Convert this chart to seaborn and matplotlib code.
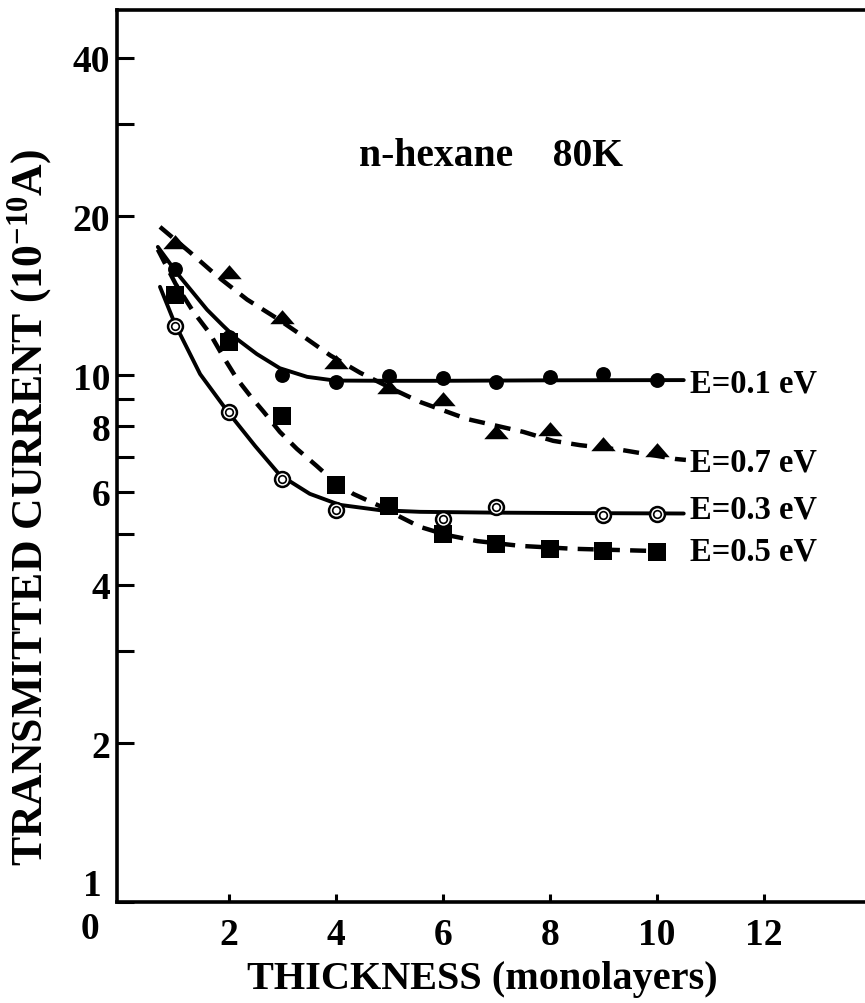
import numpy as np
import pandas as pd
import matplotlib
matplotlib.use("Agg")
import matplotlib.pyplot as plt
import seaborn as sns
from matplotlib.ticker import FixedLocator, FixedFormatter, NullLocator

# ---------------- data ----------------
thickness = [1, 2, 3, 4, 5, 6, 7, 8, 9, 10]
cur_e01 = [15.9, 11.8, 10.0, 9.7, 9.95, 9.85, 9.7, 9.9, 10.05, 9.8]
cur_e07 = [17.9, 15.7, 12.9, 10.6, 9.5, 9.0, 7.8, 7.9, 7.4, 7.2]
cur_e05 = [14.2, 11.55, 8.36, 6.18, 5.64, 4.99, 4.78, 4.67, 4.64, 4.62]
thick_e03 = [1, 2, 3, 4, 6, 7, 9, 10]
cur_e03 = [12.4, 8.5, 6.35, 5.55, 5.33, 5.62, 5.42, 5.44]

# fitted curves, points
fit01_x = [0.67, 1.03, 1.59, 1.89, 2.15, 2.52, 2.95, 3.46, 3.98, 5.0, 6.0, 8.0, 10.5]
fit01_y = [17.5, 15.6, 13.3, 12.4, 11.7, 10.96, 10.3, 9.92, 9.76, 9.75, 9.75, 9.77, 9.78]
fit07_x = [0.71, 1.27, 1.78, 2.34, 2.90, 3.46, 3.89, 4.45, 5.14, 5.57, 6.45, 7.50, 8.06, 8.56, 9.33, 10.34, 10.54]
fit07_y = [19.1, 17.1, 15.4, 13.9, 12.8, 11.7, 10.9, 10.1, 9.32, 8.89, 8.25, 7.80, 7.50, 7.36, 7.21, 6.93, 6.90]
fit03_x = [0.71, 0.99, 1.46, 1.98, 2.49, 2.95, 3.51, 4.07, 4.82, 5.57, 7.0, 8.5, 10.5]
fit03_y = [14.7, 12.5, 10.04, 8.51, 7.33, 6.46, 5.95, 5.67, 5.54, 5.50, 5.48, 5.47, 5.46]
fit05_x = [0.67, 1.0, 1.33, 1.64, 1.90, 2.15, 2.40, 2.65, 2.95, 3.27, 3.64, 3.85, 4.32, 4.82, 5.2, 5.57, 6.07, 6.64, 7.44, 8.43, 10.1]
fit05_y = [17.3, 14.9, 13.2, 12.0, 10.8, 9.83, 9.12, 8.51, 7.80, 7.24, 6.72, 6.43, 5.95, 5.64, 5.38, 5.15, 4.97, 4.84, 4.74, 4.68, 4.63]

series_labels = ["E=0.1 eV", "E=0.7 eV", "E=0.3 eV", "E=0.5 eV"]
label_y = [9.65, 6.85, 5.58, 4.63]

y_ticks = [1, 2, 3, 4, 5, 6, 7, 8, 9, 10, 20, 30, 40]
y_ticklabels = ["", "2", "", "4", "", "6", "", "8", "", "10", "20", "", "40"]
x_ticks = [2, 4, 6, 8, 10, 12]
x_ticklabels = ["2", "4", "6", "8", "10", "12"]

title_text = "n-hexane    80K"
xlabel = "THICKNESS (monolayers)"
ylabel = "TRANSMITTED CURRENT (10$^{-10}$A)"

# ---------------- style ----------------
sns.set_theme(style="ticks")
plt.rcParams["font.family"] = ["Liberation Serif", "DejaVu Serif"]
plt.rcParams["font.weight"] = "bold"
plt.rcParams["text.color"] = "black"
plt.rcParams["axes.labelcolor"] = "black"
plt.rcParams["xtick.color"] = "black"
plt.rcParams["ytick.color"] = "black"
plt.rcParams["mathtext.fontset"] = "custom"
plt.rcParams["mathtext.rm"] = "Liberation Serif:bold"
plt.rcParams["mathtext.bf"] = "Liberation Serif:bold"
plt.rcParams["mathtext.it"] = "Liberation Serif:bold:italic"

W, H = 865, 1004
fig = plt.figure(figsize=(W / 100, H / 100), dpi=100)
ax = fig.add_axes([117 / W, (H - 903) / H, (W - 117) / W, (903 - 11) / H])
ax.set_facecolor("white")
fig.patch.set_facecolor("white")

ax.set_yscale("log")

# curves
solid_lw = 2.8
dash_lw = 3.2
dash = (3.6, 2.3)
for fx, fy, dashed in [(fit01_x, fit01_y, False), (fit07_x, fit07_y, True),
                       (fit03_x, fit03_y, False), (fit05_x, fit05_y, True)]:
    df = pd.DataFrame({"x": fx, "y": fy})
    sns.lineplot(data=df, x="x", y="y", ax=ax, sort=False, estimator=None,
                 color="black", lw=dash_lw if dashed else solid_lw,
                 linestyle=(0, dash) if dashed else "-")

# markers
tri = [(-1, -0.55), (1, -0.55), (0, 0.6)]
sns.scatterplot(x=thickness, y=cur_e01, ax=ax, marker="o", s=115, color="black",
                edgecolor="black", linewidth=0, zorder=5)
sns.scatterplot(x=thickness, y=cur_e07, ax=ax, marker=tri, s=310, color="black",
                edgecolor="black", linewidth=0, zorder=5)
sns.scatterplot(x=thickness, y=cur_e05, ax=ax, marker="s", s=150, color="black",
                edgecolor="black", linewidth=0, zorder=5)
sns.scatterplot(x=thick_e03, y=cur_e03, ax=ax, marker="o", s=115, color="white",
                edgecolor="black", linewidth=1.8, zorder=5)
sns.scatterplot(x=thick_e03, y=cur_e03, ax=ax, marker="o", s=30, color="white",
                edgecolor="black", linewidth=1.2, zorder=6)

# series labels
for lab, yy in zip(series_labels, label_y):
    ax.text(10.62, yy, lab, ha="left", va="center", fontsize=23.5, fontweight="bold")

ax.text((491 - 117) / 748, (903 - 156) / 892, title_text, transform=ax.transAxes, ha="center",
        va="center", fontsize=28.5, fontweight="bold")

# axes limits / ticks
ax.set_xlim((117 - 122) / 53.5, (W - 122) / 53.5)
ax.set_ylim(1, 10 ** ((903 - 11) / 527))

ax.yaxis.set_major_locator(FixedLocator(y_ticks))
ax.yaxis.set_major_formatter(FixedFormatter(y_ticklabels))
ax.yaxis.set_minor_locator(NullLocator())
ax.xaxis.set_major_locator(FixedLocator(x_ticks))
ax.xaxis.set_major_formatter(FixedFormatter(x_ticklabels))
ax.xaxis.set_minor_locator(NullLocator())

ax.tick_params(axis="y", direction="in", length=12, width=2.2, pad=5,
               labelsize=27, colors="black")
ax.tick_params(axis="x", direction="in", length=6, width=2.2, pad=11,
               labelsize=27, colors="black")
for t in ax.get_xticklabels() + ax.get_yticklabels():
    t.set_fontweight("bold")

for side in ["left", "bottom", "top"]:
    ax.spines[side].set_linewidth(2.6)
    ax.spines[side].set_color("black")
ax.spines["right"].set_visible(False)

ax.set_xlabel(xlabel, fontsize=29, fontweight="bold", va="center", color="black")
ax.xaxis.set_label_coords((482 - 117) / 748, (903 - 980) / 892)
ax.set_ylabel(ylabel, fontsize=31.5, fontweight="bold", va="center", color="black")
ax.yaxis.set_label_coords((30 - 117) / 748, (903 - 507) / 892)

# corner labels "1" (y) and "0" (x)
fig.text(92 / W, 1 - 887 / H, "1", ha="center", va="center", fontsize=27, fontweight="bold")
fig.text(90 / W, 1 - 930 / H, "0", ha="center", va="center", fontsize=27, fontweight="bold")

fig.savefig("out.png", dpi=100, facecolor="white")
